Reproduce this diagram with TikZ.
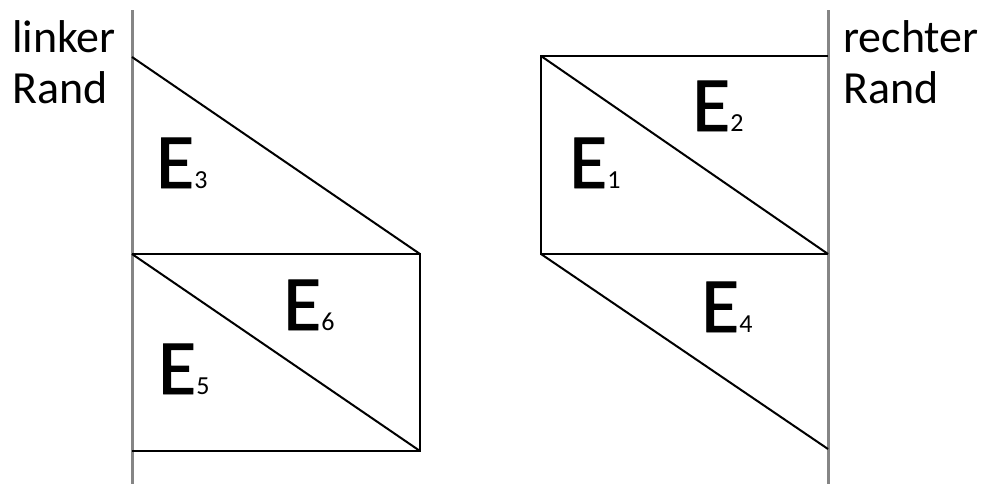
\documentclass[tikz,border=0pt]{standalone}
\usepackage{fontspec}
\setmainfont{Carlito}
\newfontfamily\heavyfont[FakeBold=1.2]{Carlito}
\begin{document}
\begin{tikzpicture}[x=1pt,y=-1pt,
  edge/.style={line width=2pt,black,line join=miter},
  rand/.style={line width=3pt,draw=black!48},
  lbl/.style={inner sep=0pt,anchor=base west,font=\fontsize{46}{50}\selectfont},
  ename/.style={inner sep=0pt,anchor=base west,font=\heavyfont\fontsize{78}{78}\selectfont}]
\useasboundingbox (0,0) rectangle (1000,490);
% borders
\coordinate (lt) at (132,10); \coordinate (lb) at (132,484);
\coordinate (rt) at (828,10); \coordinate (rb) at (828,484);
\draw[rand] (lt) -- (lb);
\draw[rand] (rt) -- (rb);
% left structure
\coordinate (a1) at (132,57);
\coordinate (a2) at (420,254);
\coordinate (a3) at (132,254);
\coordinate (a4) at (420,451);
\coordinate (a5) at (132,451);
\draw[edge] (a1) -- (a2);
\draw[edge] (a3) -- (a2) -- (a4) -- (a5);
\draw[edge] (a3) -- (a4);
% right structure
\coordinate (b1) at (541,56);
\coordinate (b2) at (828,56);
\coordinate (b3) at (828,254);
\coordinate (b4) at (541,254);
\coordinate (b5) at (828,449);
\draw[edge] (b2) -- (b1) -- (b4) -- (b3);
\draw[edge] (b1) -- (b3);
\draw[edge] (b4) -- (b5);
% labels
\node[lbl] (lr1) at (12,52) {linker};
\node[lbl] (lr2) at (12,103) {Rand};
\node[lbl] (rr1) at (843,52) {rechter};
\node[lbl] (rr2) at (843,103) {Rand};
\newcommand{\sbs}[1]{{\normalfont\fontsize{26}{26}\selectfont #1}}
\node[ename] (e3) at (156,188) {E\sbs{3}};
\node[ename] (e5) at (158,394) {E\sbs{5}};
\node[ename] (e6) at (283,330) {E\sbs{6}};
\node[ename] (e1) at (569,188) {E\sbs{1}};
\node[ename] (e2) at (692,131) {E\sbs{2}};
\node[ename] (e4) at (701,332) {E\sbs{4}};
\end{tikzpicture}
\end{document}
